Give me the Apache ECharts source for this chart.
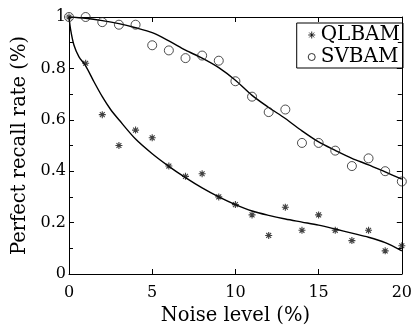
<!DOCTYPE html>
<html>
<head>
<meta charset="utf-8">
<script src="https://cdn.jsdelivr.net/npm/echarts@6/dist/echarts.min.js"></script>
<style>html,body{margin:0;padding:0;background:#fff}#c{width:415px;height:331px}</style>
</head>
<body>
<div id="c"></div>
<script>
const noiseLevels = [0,1,2,3,4,5,6,7,8,9,10,11,12,13,14,15,16,17,18,19,20];
const qlbam = [1.0,0.82,0.62,0.50,0.56,0.53,0.42,0.38,0.39,0.30,0.27,0.23,0.15,0.26,0.17,0.23,0.17,0.13,0.17,0.09,0.11];
const svbam = [1.0,1.0,0.98,0.97,0.97,0.89,0.87,0.84,0.85,0.83,0.75,0.69,0.63,0.64,0.51,0.51,0.48,0.42,0.45,0.40,0.36];
const qlFitX = [0,0.1,0.3,0.6,1,1.5,2,2.5,3,4,5,6,7,8,9,10,11,12,13,14,15,16,17,18,19,20];
const qlFitY = [1.0,0.95,0.89,0.845,0.81,0.748,0.69,0.64,0.60,0.525,0.468,0.419,0.375,0.335,0.30,0.27,0.245,0.228,0.214,0.202,0.19,0.175,0.159,0.143,0.122,0.09];
const svFitX = [0,1,2,3,4,5,6,7,8,9,10,11,12,13,14,15,16,17,18,19,20];
const svFitY = [1.0,0.995,0.986,0.974,0.958,0.939,0.907,0.871,0.840,0.803,0.754,0.695,0.648,0.605,0.557,0.514,0.481,0.45,0.425,0.397,0.369];
const xTicks = [0,5,10,15,20];
const yTicks = [0,0.2,0.4,0.6,0.8,1];

const star = 'path://M0,-5L0,5M-5,0L5,0M-3.5,-3.5L3.5,3.5M-3.5,3.5L3.5,-3.5';
const font = 'DejaVu Serif';
const chart = echarts.init(document.getElementById('c'));
const pair = (xs, ys) => xs.map((x, i) => [x, ys[i]]);
const axCommon = {
  axisLine: {show: true, onZero: false, lineStyle: {color: '#000', width: 1}},
  axisTick: {show: true, inside: true, length: 5, lineStyle: {color: '#000'}},
  splitLine: {show: false}
};
chart.setOption({
  animation: false,
  backgroundColor: '#fff',
  grid: {left: 69, right: 7, top: 17, bottom: 45, containLabel: false},
  legend: {
    right: 12, top: 23, orient: 'vertical',
    borderColor: '#000', borderWidth: 1, borderRadius: 0,
    padding: [2, 3, 1, 11], itemGap: 2, itemWidth: 8, itemHeight: 7,
    textStyle: {fontFamily: font, fontSize: 20, color: '#000'},
    data: [
      {name: 'QLBAM', icon: star, itemStyle: {color: 'transparent', borderColor: '#000', borderWidth: 1}},
      {name: 'SVBAM', icon: 'circle', itemStyle: {color: 'transparent', borderColor: '#000', borderWidth: 1}}
    ]
  },
  xAxis: [
    Object.assign({type: 'value', min: 0, max: 20, interval: 5, position: 'bottom',
      name: 'Noise level (%)', nameLocation: 'middle', nameGap: 32,
      nameTextStyle: {fontFamily: font, fontSize: 19.5, color: '#000'},
      axisLabel: {fontFamily: font, fontSize: 16, color: '#000', margin: 11,
        formatter: v => xTicks.includes(v) ? String(v) : ''}}, axCommon),
    Object.assign({type: 'value', min: 0, max: 20, interval: 5, position: 'top', axisLabel: {show: false}}, axCommon)
  ],
  yAxis: [
    Object.assign({type: 'value', min: 0, max: 1, interval: 0.2, position: 'left',
      name: 'Perfect recall rate (%)', nameLocation: 'middle', nameGap: 30,
      nameTextStyle: {fontFamily: font, fontSize: 19.5, color: '#000'},
      minorTick: {show: true, splitNumber: 2, length: 4, lineStyle: {color: '#000'}},
      axisLabel: {fontFamily: font, fontSize: 16, color: '#000', margin: 3,
        formatter: v => { const r = Math.round(v * 10) / 10; return yTicks.some(t => Math.abs(t - r) < 1e-9) ? (r === 1 ? '1' : r === 0 ? '0' : String(r)) : ''; }}}, axCommon),
    Object.assign({type: 'value', min: 0, max: 1, interval: 0.2, position: 'right', axisLabel: {show: false},
      minorTick: {show: true, splitNumber: 2, length: 4, lineStyle: {color: '#000'}}}, axCommon)
  ],
  series: [
    {name: 'QLBAM fit', type: 'line', data: pair(qlFitX, qlFitY), smooth: 0.3, showSymbol: false, symbol: 'none',
      lineStyle: {color: '#000', width: 1.4}, z: 1},
    {name: 'SVBAM fit', type: 'line', data: pair(svFitX, svFitY), smooth: 0.3, showSymbol: false, symbol: 'none',
      lineStyle: {color: '#000', width: 1.4}, z: 1},
    {name: 'QLBAM', type: 'scatter', data: pair(noiseLevels, qlbam), symbol: star, symbolSize: 7,
      itemStyle: {color: 'transparent', borderColor: '#111', borderWidth: 1.1}, z: 3},
    {name: 'SVBAM', type: 'scatter', data: pair(noiseLevels, svbam), symbol: 'circle', symbolSize: 9,
      itemStyle: {color: 'transparent', borderColor: '#222', borderWidth: 1}, z: 3}
  ]
});
</script>
</body>
</html>
